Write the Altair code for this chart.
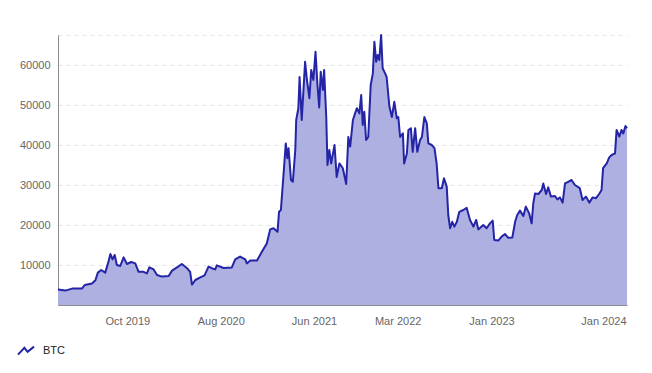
import altair as alt
import pandas as pd

dates = [
    "2019-02-17", "2019-03-13", "2019-04-04", "2019-05-06", "2019-05-15", "2019-06-08",
    "2019-06-19", "2019-06-27", "2019-07-08", "2019-07-21", "2019-07-30", "2019-08-07",
    "2019-08-14", "2019-08-21", "2019-08-28", "2019-09-08", "2019-09-19", "2019-09-30",
    "2019-10-14", "2019-10-27", "2019-11-07", "2019-11-23", "2019-12-04", "2019-12-12",
    "2019-12-26", "2020-01-06", "2020-01-22", "2020-02-13", "2020-02-24", "2020-03-11",
    "2020-03-27", "2020-04-13", "2020-04-23", "2020-04-29", "2020-05-10", "2020-05-26",
    "2020-06-09", "2020-06-22", "2020-07-03", "2020-07-14", "2020-07-19", "2020-08-10",
    "2020-09-06", "2020-09-17", "2020-10-03", "2020-10-20", "2020-10-25", "2020-11-05",
    "2020-11-27", "2020-12-13", "2020-12-29", "2021-01-09", "2021-01-20", "2021-02-02",
    "2021-02-07", "2021-02-13", "2021-02-21", "2021-03-01", "2021-03-06", "2021-03-10",
    "2021-03-18", "2021-03-24", "2021-04-01", "2021-04-04", "2021-04-11", "2021-04-15",
    "2021-04-22", "2021-05-03", "2021-05-09", "2021-05-17", "2021-05-23", "2021-05-30",
    "2021-06-06", "2021-06-12", "2021-06-18", "2021-06-23", "2021-06-30", "2021-07-04",
    "2021-07-11", "2021-07-15", "2021-07-21", "2021-07-27", "2021-08-07", "2021-08-14",
    "2021-08-23", "2021-09-03", "2021-09-14", "2021-09-21", "2021-09-27", "2021-10-06",
    "2021-10-13", "2021-10-19", "2021-10-27", "2021-11-02", "2021-11-07", "2021-11-12",
    "2021-11-18", "2021-11-25", "2021-12-03", "2021-12-10", "2021-12-15", "2021-12-21",
    "2021-12-26", "2021-12-31", "2022-01-06", "2022-01-11", "2022-01-19", "2022-01-24",
    "2022-02-02", "2022-02-10", "2022-02-18", "2022-02-26", "2022-03-03", "2022-03-09",
    "2022-03-18", "2022-03-22", "2022-03-31", "2022-04-05", "2022-04-13", "2022-04-19",
    "2022-04-27", "2022-05-04", "2022-05-13", "2022-05-19", "2022-05-27", "2022-06-04",
    "2022-06-09", "2022-06-20", "2022-06-29", "2022-07-06", "2022-07-12", "2022-07-23",
    "2022-07-30", "2022-08-08", "2022-08-13", "2022-08-19", "2022-08-26", "2022-09-02",
    "2022-09-10", "2022-09-18", "2022-10-01", "2022-10-12", "2022-10-23", "2022-11-03",
    "2022-11-12", "2022-11-19", "2022-12-05", "2022-12-16", "2022-12-27", "2023-01-05",
    "2023-01-10", "2023-01-23", "2023-02-03", "2023-02-14", "2023-02-25", "2023-03-10",
    "2023-03-19", "2023-03-26", "2023-04-04", "2023-04-15", "2023-04-23", "2023-05-04",
    "2023-05-12", "2023-05-17", "2023-05-23", "2023-06-03", "2023-06-14", "2023-06-19",
    "2023-06-28", "2023-07-05", "2023-07-14", "2023-07-27", "2023-08-04", "2023-08-12",
    "2023-08-21", "2023-08-29", "2023-09-08", "2023-09-19", "2023-09-30", "2023-10-16",
    "2023-10-25", "2023-11-05", "2023-11-16", "2023-11-27", "2023-12-08", "2023-12-18",
    "2023-12-26", "2023-12-31", "2024-01-12", "2024-01-20", "2024-01-28", "2024-02-08",
    "2024-02-13", "2024-02-22", "2024-02-29", "2024-03-06", "2024-03-13", "2024-03-18",
]

prices = [
    3900, 3600, 4100, 4100, 5000, 5400,
    6200, 8100, 8750, 8100, 10400, 12750,
    11400, 12500, 10000, 9750, 11900, 10250,
    10750, 10400, 8300, 8300, 7900, 9400,
    8900, 7500, 7100, 7250, 8600, 9400,
    10250, 9200, 8300, 5100, 6250, 6900,
    7400, 9600, 9200, 8900, 9900, 9250,
    9400, 11400, 12100, 11400, 10400, 11100,
    11100, 13300, 15400, 18900, 19200, 18300,
    23300, 23750, 32000, 40400, 36700, 39200,
    31250, 30800, 38750, 46250, 49200, 57000,
    46250, 60800, 56250, 51700, 58750, 56250,
    63300, 55400, 49400, 58300, 53750, 58750,
    47000, 35000, 38750, 35400, 40000, 32000,
    35400, 34200, 30250, 42000, 39600, 46250,
    47900, 49200, 47900, 52500, 45000, 48300,
    41250, 42000, 55000, 57900, 65800, 60800,
    62500, 61250, 67500, 59200, 57900, 57000,
    49600, 47000, 50800, 46700, 47000, 42000,
    42900, 35400, 37900, 43750, 44200, 38300,
    44200, 38300, 41250, 42000, 47000, 45400,
    40400, 40000, 39200, 35400, 29200, 29200,
    31700, 29600, 22500, 19200, 20800, 19600,
    20800, 23300, 23750, 24300, 21250, 19600,
    21250, 18900, 20000, 19200, 20400, 21100,
    16250, 16100, 17100, 17750, 16800, 16900,
    20800, 22500, 23600, 22250, 24600, 22900,
    20400, 25250, 27900, 27750, 28750, 30400,
    27750, 29400, 27100, 27250, 26400, 26900,
    25600, 30400, 30800, 31250, 30000, 29200,
    26250, 27100, 25600, 26900, 26700, 27750,
    28750, 34200, 35400, 36900, 37500, 37900,
    43750, 42100, 43750, 42900, 44750, 44200,
]

series_name = "BTC"
y_ticks = [10000, 20000, 30000, 40000, 50000, 60000, 67500]
x_tick_months = [(2019, 10), (2020, 8), (2021, 6), (2022, 3), (2023, 1), (2024, 1)]

df = pd.DataFrame({
    "date": pd.to_datetime(dates),
    "price": prices,
    "series": [series_name] * len(dates),
})

LINE = "#2424a6"
FILL = "#aeb0e2"
FONT = "Liberation Sans"

x_enc = alt.X(
    "date:T",
    scale=alt.Scale(
        domain=[alt.DateTime(year=2019, month=2, date=17), alt.DateTime(year=2024, month=3, date=18)],
        nice=False,
    ),
    axis=alt.Axis(
        values=[alt.DateTime(year=y, month=m, date=1) for y, m in x_tick_months],
        format="%b %Y",
        title=None,
        grid=False,
        ticks=False,
        tickSize=0,
        domainColor="#8c8c8c",
        labelColor="#666666",
        labelFont=FONT,
        labelFontSize=11,
        labelPadding=10,
    ),
)
y_enc = alt.Y(
    "price:Q",
    scale=alt.Scale(domain=[0, 67500], nice=False, zero=True),
    axis=alt.Axis(
        values=y_ticks,
        format="d",
        labelExpr="datum.value > 60000 ? '' : datum.label",
        title=None,
        grid=True,
        gridDash=[4, 4],
        gridColor="#e4e4e4",
        ticks=False,
        tickSize=0,
        domainColor="#8c8c8c",
        labelColor="#666666",
        labelFont=FONT,
        labelFontSize=11,
        labelPadding=8,
    ),
)

base = alt.Chart(df)
area = base.mark_area(color=FILL, opacity=1).encode(x=x_enc, y=y_enc)
line = base.mark_line(strokeWidth=2, strokeJoin="round").encode(
    x=x_enc,
    y=y_enc,
    color=alt.Color(
        "series:N",
        scale=alt.Scale(range=[LINE]),
        legend=alt.Legend(
            title=None,
            orient="none",
            legendX=-41,
            legendY=307,
            padding=0,
            symbolType="M-1,0.45L-0.2,-0.4L0.2,0.1L1,-0.55",
            symbolSize=256,
            symbolStrokeWidth=2,
            symbolFillColor="transparent",
            labelFont=FONT,
            labelFontSize=11,
            labelColor="#222222",
            labelOffset=8,
        ),
    ),
)

chart = (
    alt.layer(area, line)
    .properties(
        width=569,
        height=270,
        autosize=alt.AutoSizeParams(type="none"),
        padding={"left": 50, "top": 27, "right": 17, "bottom": 60},
    )
    .configure_view(stroke=None)
)

chart.save("out.html", embed_options={"renderer": "svg", "actions": False})
